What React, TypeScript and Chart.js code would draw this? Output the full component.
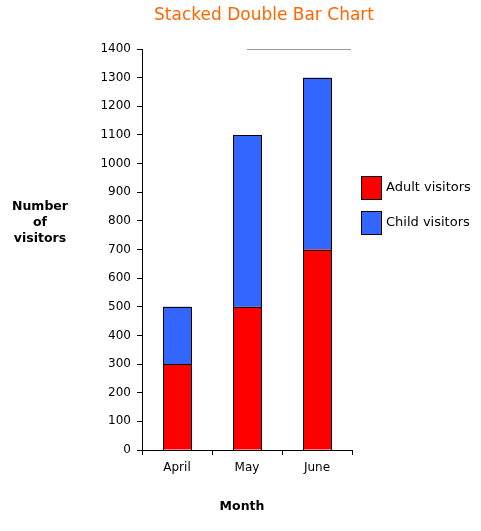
import React, { useEffect, useRef } from "react";
import { Chart, registerables } from "chart.js";

Chart.register(...registerables);

const categories = ["April", "May", "June"];
const adultVisitors = [300, 500, 700];
const childVisitors = [200, 600, 600];
const seriesNames = ["Adult visitors", "Child visitors"];
const seriesColors = ["#FF0000", "#3366FF"];
const chartTitle = "Stacked Double Bar Chart";
const yTitleLines = ["Number", "of", "visitors"];
const xTitle = "Month";
const yMin = 0;
const yMax = 1400;
const yStep = 100;

const FONT = "'DejaVu Sans', Verdana, sans-serif";

const outlinePlugin = {
  id: "outline",
  afterDatasetsDraw(chart: any) {
    const ctx = chart.ctx;
    ctx.save();
    ctx.strokeStyle = "#000";
    ctx.lineWidth = 1;
    chart.data.datasets.forEach((_: any, di: number) => {
      const meta = chart.getDatasetMeta(di);
      meta.data.forEach((bar: any) => {
        const left = Math.round(bar.x - bar.width / 2);
        const right = Math.round(bar.x + bar.width / 2);
        const top = Math.round(Math.min(bar.y, bar.base));
        const bottom = Math.round(Math.max(bar.y, bar.base));
        ctx.strokeRect(left + 0.5, top + 0.5, right - left, bottom - top);
      });
    });
    ctx.restore();
  },
};

const decorPlugin = {
  id: "decor",
  afterDraw(chart: any) {
    const ctx = chart.ctx;
    const area = chart.chartArea;
    const xs = chart.scales.x;
    const ys = chart.scales.y;
    ctx.save();
    ctx.fillStyle = "#FF6600";
    ctx.font = `17px ${FONT}`;
    ctx.textAlign = "center";
    ctx.textBaseline = "middle";
    ctx.fillText(chartTitle, 264, 16);

    ctx.strokeStyle = "#999999";
    ctx.lineWidth = 1;
    ctx.beginPath();
    const yTop = Math.round(ys.getPixelForValue(yMax)) + 0.5;
    ctx.moveTo(xs.getPixelForValue(1), yTop);
    ctx.lineTo(area.right - 1, yTop);
    ctx.stroke();

    ctx.fillStyle = "#000";
    ctx.font = `bold 12.5px ${FONT}`;
    yTitleLines.forEach((t, i) => {
      ctx.fillText(t, 40, 207 + i * 16);
    });
    ctx.fillText(xTitle, 242, 507);

    ctx.font = `13px ${FONT}`;
    ctx.textAlign = "left";
    seriesNames.forEach((name, i) => {
      const top = 176 + i * 35;
      ctx.fillStyle = seriesColors[i];
      ctx.fillRect(361, top, 20, 23);
      ctx.strokeStyle = "#000";
      ctx.lineWidth = 1;
      ctx.strokeRect(361.5, top + 0.5, 20, 23);
      ctx.fillStyle = "#000";
      ctx.fillText(name, 386, top + 11.5);
    });
    ctx.restore();
  },
};

export default function App() {
  const ref = useRef<HTMLCanvasElement>(null);
  useEffect(() => {
    if (!ref.current) return;
    const mk = (i: number, data: number[]) => ({
      label: seriesNames[i],
      data,
      backgroundColor: seriesColors[i],
      borderWidth: 0,
      barPercentage: 0.4,
      categoryPercentage: 1,
    });
    const chart = new Chart(ref.current, {
      type: "bar",
      data: {
        labels: categories,
        datasets: [mk(0, adultVisitors), mk(1, childVisitors)],
      },
      options: {
        responsive: false,
        animation: false,
        devicePixelRatio: 1,
        layout: { padding: { top: 49, right: 129, left: 0, bottom: 0 } },
        plugins: {
          legend: { display: false },
          title: { display: false },
          tooltip: { enabled: false },
        },
        scales: {
          x: {
            stacked: true,
            offset: true,
            grid: {
              display: true,
              drawOnChartArea: false,
              drawTicks: true,
              tickLength: 5,
              color: "#000",
              offset: true,
            },
            border: { display: true, color: "#000", width: 1 },
            ticks: {
              color: "#000",
              font: { family: FONT, size: 12 },
              padding: 6,
              maxRotation: 0,
            },
            afterFit: (s: any) => {
              s.height = 81;
            },
          },
          y: {
            stacked: true,
            min: yMin,
            max: yMax,
            grid: {
              display: true,
              drawOnChartArea: false,
              drawTicks: true,
              tickLength: 5,
              color: "#000",
            },
            border: { display: true, color: "#000", width: 1 },
            ticks: {
              stepSize: yStep,
              color: "#000",
              font: { family: FONT, size: 12 },
              padding: 6,
              callback: (v: any) => String(v),
            },
            afterFit: (s: any) => {
              s.width = 142;
            },
          },
        },
      },
      plugins: [outlinePlugin, decorPlugin],
    });
    return () => chart.destroy();
  }, []);
  return (
    <div style={{ position: "fixed", left: 0, top: 0, width: 481, height: 531, background: "#fff" }}>
      <canvas ref={ref} width={481} height={531} style={{ display: "block" }} />
    </div>
  );
}
